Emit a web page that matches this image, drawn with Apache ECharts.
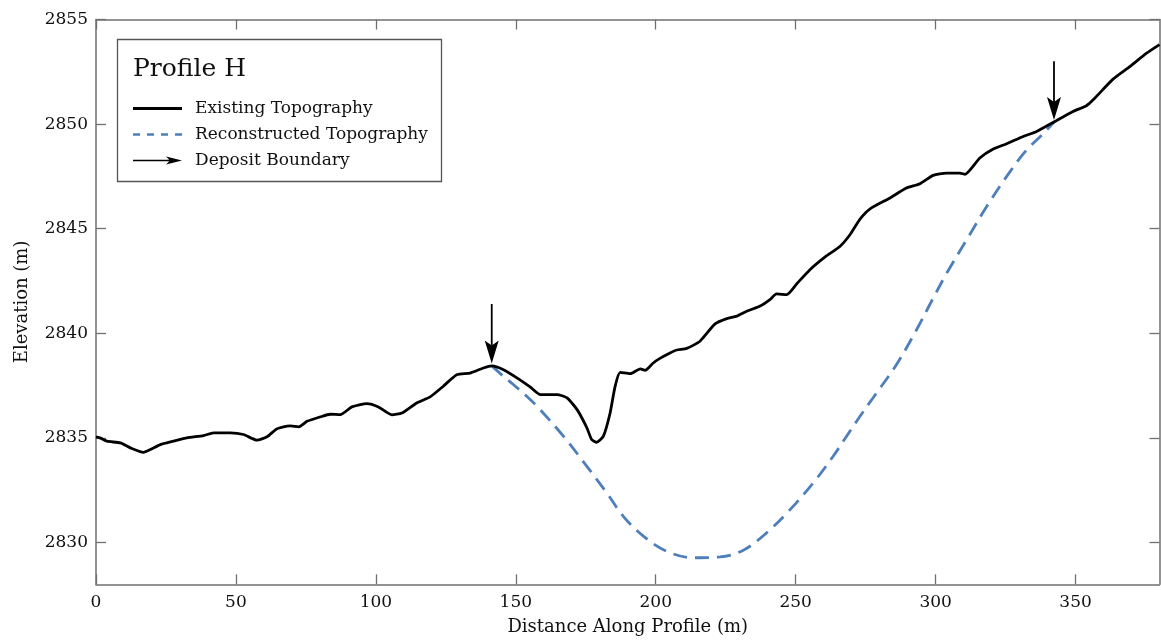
<!DOCTYPE html>
<html>
<head>
<meta charset="utf-8">
<script src="https://cdn.jsdelivr.net/npm/echarts@6/dist/echarts.min.js"></script>
<style>
  html, body { margin: 0; padding: 0; background: #ffffff; }
  #chart { width: 1161px; height: 643px; }
</style>
</head>
<body>
<div id="chart"></div>
<script>
// Existing ground surface along the profile (distance m, elevation m)
const existingDistance = [
  0, 1.5, 3.9, 8.7, 12.3, 17.0, 19.4, 23.0, 27.7, 32.5, 38.4, 42.0, 48.0, 52.7,
  57.5, 61.1, 64.6, 67.0, 69.4, 72.4, 75.4, 80.1, 83.7, 87.3, 91.4, 96.8, 100.9,
  105.7, 109.3, 114.6, 119.4, 124.1, 128.9, 133.7, 138.4, 141.4, 145.6, 150.4,
  155.1, 158.8, 164.7, 168.3, 171.9, 175.4, 177.1, 178.9, 181.3, 183.7, 185.5,
  187.3, 190.9, 194.5, 196.2, 199.1, 201.5, 205.1, 207.5, 211.1, 215.8, 221.2,
  225.4, 229.0, 232.5, 237.3, 240.8, 243.2, 246.8, 250.4, 255.1, 261.1, 265.8,
  269.4, 273.0, 276.6, 283.7, 289.6, 294.4, 299.1, 303.9, 308.7, 310.5, 315.8,
  320.6, 325.4, 331.3, 336.1, 342.3, 349.1, 353.9, 356.3, 363.4, 369.4, 375.4, 380
];
const existingElevation = [
  2835.05, 2835.00, 2834.84, 2834.76, 2834.52, 2834.31, 2834.44, 2834.68, 2834.84,
  2835.00, 2835.11, 2835.24, 2835.24, 2835.16, 2834.89, 2835.05, 2835.43, 2835.53,
  2835.57, 2835.53, 2835.79, 2836.00, 2836.13, 2836.11, 2836.48, 2836.64, 2836.48,
  2836.10, 2836.19, 2836.67, 2836.96, 2837.47, 2838.02, 2838.10, 2838.34, 2838.44,
  2838.26, 2837.87, 2837.44, 2837.07, 2837.07, 2836.91, 2836.35, 2835.48, 2834.92,
  2834.79, 2835.08, 2836.19, 2837.47, 2838.13, 2838.07, 2838.30, 2838.23, 2838.58,
  2838.80, 2839.06, 2839.20, 2839.28, 2839.62, 2840.45, 2840.70, 2840.82, 2841.05,
  2841.30, 2841.61, 2841.88, 2841.85, 2842.37, 2843.04, 2843.71, 2844.15, 2844.71,
  2845.46, 2845.95, 2846.47, 2846.94, 2847.15, 2847.55, 2847.66, 2847.66, 2847.60,
  2848.38, 2848.81, 2849.06, 2849.41, 2849.65, 2850.10, 2850.60, 2850.88, 2851.16,
  2852.15, 2852.75, 2853.39, 2853.80
];

// Reconstructed pre-deposit surface between the two boundaries
const reconDistance = [
  141.4, 145.6, 149.1, 153.9, 158.7, 167.0, 175.4, 182.5, 188.4, 195.6, 203.9,
  213.4, 223.0, 231.3, 239.6, 248.0, 256.3, 263.4, 268.2, 273.0, 278.0,
  286.1, 293.2, 298.9, 304.0, 311.1, 318.3, 325.4, 332.0, 338.5, 342.3
];
const reconElevation = [
  2838.44, 2837.94, 2837.55, 2836.99, 2836.35, 2835.08, 2833.64, 2832.37, 2831.25,
  2830.30, 2829.58, 2829.27, 2829.31, 2829.63, 2830.46, 2831.57, 2832.85, 2834.12,
  2835.08, 2836.03, 2836.98, 2838.52, 2840.17, 2841.62, 2842.88, 2844.47,
  2846.07, 2847.50, 2848.68, 2849.55, 2850.10
];

// Deposit boundary markers: arrow position, tail and tip elevations
const boundaryDistance = [141.4, 342.3];
const boundaryTail = [2841.4, 2853.0];
const boundaryTip = [2838.55, 2850.2];

// Tick positions
const xTicks = [0, 50, 100, 150, 200, 250, 300, 350];
const yTicks = [2830, 2835, 2840, 2845, 2850, 2855];

const FONT = 'DejaVu Serif';
const FRAME = '#707070';

const pair = (xs, ys) => xs.map((x, i) => [x, ys[i]]);

// legend icons (box 49 x 14; tiny corner specks keep the box size fixed)
const specks = 'M0 0 h0.01 v0.01 h-0.01 Z M48.99 13.99 h0.01 v0.01 h-0.01 Z ';
const iconSolid = 'path://' + specks + 'M0 5.6 H49 V8.4 H0 Z';
const iconDashed = 'path://' + specks + 'M0 5.8 H7 V8.2 H0 Z M14 5.8 H21 V8.2 H14 Z M28 5.8 H35 V8.2 H28 Z M42 5.8 H49 V8.2 H42 Z';
const iconArrow = 'path://' + specks + 'M0 6.3 H37 V7.7 H0 Z M33 3 L49 7 L33 11 L37 7 Z';

const frameAxis = {
  axisLine: { show: true, onZero: false, lineStyle: { color: FRAME, width: 1.5 } },
  axisTick: { show: true, inside: true, length: 10, lineStyle: { color: FRAME, width: 1.3 } },
  splitLine: { show: false }
};

const xBase = { type: 'value', min: 0, max: 380 };
const yBase = { type: 'value', min: 2828, max: 2855 };
const plain = (v) => String(v);

const chart = echarts.init(document.getElementById('chart'), null, { renderer: 'canvas' });

chart.setOption({
  animation: false,
  backgroundColor: '#ffffff',
  grid: { left: 96, top: 19.5, right: 1.5, bottom: 58.7, containLabel: false },
  title: {
    text: 'Profile H',
    left: 133, top: 57, padding: 0,
    textStyle: { fontFamily: FONT, fontSize: 25, fontWeight: 'normal', color: '#111' }
  },
  legend: {
    orient: 'vertical',
    left: 133, top: 100, padding: 0,
    itemWidth: 49, itemHeight: 14, itemGap: 9,
    selectedMode: false,
    textStyle: { fontFamily: FONT, fontSize: 17, color: '#111', padding: [0, 0, 0, 8] },
    data: [
      { name: 'Existing Topography', icon: iconSolid },
      { name: 'Reconstructed Topography', icon: iconDashed },
      { name: 'Deposit Boundary', icon: iconArrow }
    ]
  },
  graphic: [{
    type: 'rect',
    shape: { x: 117.5, y: 39.5, width: 324, height: 142 },
    style: { fill: null, stroke: '#555', lineWidth: 1.3 },
    z: 10
  }],
  xAxis: [
    Object.assign({}, xBase, frameAxis, {
      position: 'bottom',
      name: 'Distance Along Profile (m)',
      nameLocation: 'middle', nameGap: 34,
      nameTextStyle: { fontFamily: FONT, fontSize: 18, color: '#111' },
      axisTick: Object.assign({}, frameAxis.axisTick, { customValues: xTicks }),
      axisLabel: { customValues: xTicks, formatter: plain, fontFamily: FONT, fontSize: 17, color: '#111', margin: 10 }
    }),
    Object.assign({}, xBase, frameAxis, {
      position: 'top',
      axisTick: Object.assign({}, frameAxis.axisTick, { customValues: xTicks }),
      axisLabel: { show: false }
    })
  ],
  yAxis: [
    Object.assign({}, yBase, frameAxis, {
      position: 'left',
      name: 'Elevation (m)',
      nameLocation: 'middle', nameGap: 65, nameRotate: 90,
      nameTextStyle: { fontFamily: FONT, fontSize: 18, color: '#111' },
      axisTick: Object.assign({}, frameAxis.axisTick, { customValues: yTicks }),
      axisLabel: { customValues: yTicks, formatter: plain, fontFamily: FONT, fontSize: 17, color: '#111', margin: 8 }
    }),
    Object.assign({}, yBase, frameAxis, {
      position: 'right',
      axisTick: Object.assign({}, frameAxis.axisTick, { customValues: yTicks }),
      axisLabel: { show: false }
    })
  ],
  series: [
    {
      name: 'Reconstructed Topography',
      type: 'line',
      data: pair(reconDistance, reconElevation),
      showSymbol: false, symbol: 'none',
      smooth: 0.35,
      color: '#4f7fbb',
      itemStyle: { color: '#4f7fbb' },
      lineStyle: { color: '#4f7fbb', width: 2.8, type: [14, 8] },
      z: 2
    },
    {
      name: 'Existing Topography',
      type: 'line',
      data: pair(existingDistance, existingElevation),
      showSymbol: false, symbol: 'none',
      smooth: 0.2,
      color: '#000',
      itemStyle: { color: '#000' },
      lineStyle: { color: '#000', width: 2.8 },
      z: 3
    },
    {
      name: 'Deposit Boundary',
      type: 'custom',
      color: '#000',
      itemStyle: { color: '#000' },
      data: boundaryDistance.map((d, i) => [d, boundaryTail[i], boundaryTip[i]]),
      renderItem: function (params, api) {
        const tail = api.coord([api.value(0), api.value(1)]);
        const tip = api.coord([api.value(0), api.value(2)]);
        const headLen = 23, halfW = 7, notch = 5;
        return {
          type: 'group',
          children: [
            {
              type: 'line',
              shape: { x1: tail[0], y1: tail[1], x2: tip[0], y2: tip[1] - headLen + notch },
              style: { stroke: '#000', lineWidth: 1.8 }
            },
            {
              type: 'polygon',
              shape: { points: [
                [tip[0], tip[1]],
                [tip[0] - halfW, tip[1] - headLen],
                [tip[0], tip[1] - headLen + notch],
                [tip[0] + halfW, tip[1] - headLen]
              ] },
              style: { fill: '#000' }
            }
          ]
        };
      },
      z: 4
    }
  ]
});
</script>
</body>
</html>
